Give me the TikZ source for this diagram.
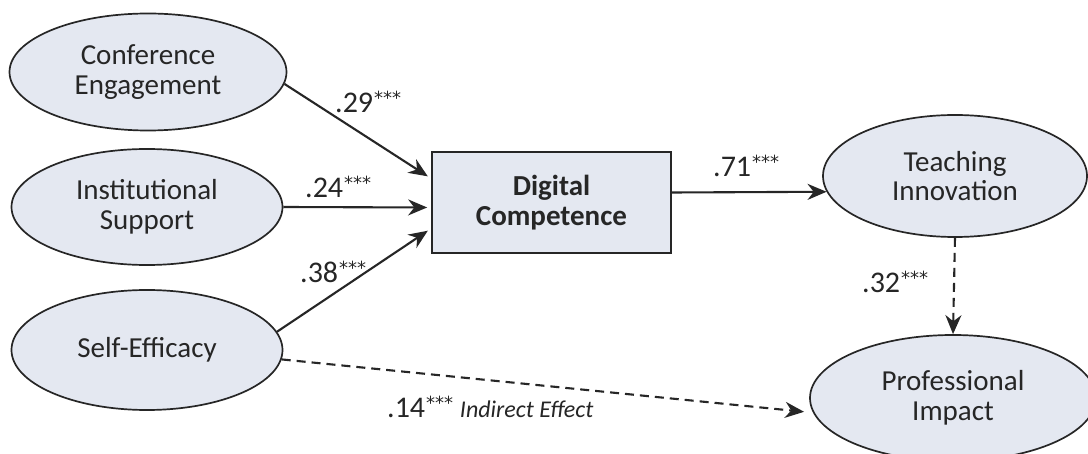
\documentclass[tikz,border=0pt]{standalone}
\usepackage{fontspec}
\setmainfont{Carlito}
\newfontfamily\astfont{DejaVu Sans}
\usetikzlibrary{shapes.geometric,arrows.meta}
\definecolor{nodefill}{HTML}{E4E8F1}
\definecolor{ink}{HTML}{262626}
\newcommand{\sig}{\kern1pt\raisebox{8pt}{\astfont\fontsize{18}{18}\selectfont ***}}
\tikzset{
  latent/.style={ellipse, draw=ink, line width=1.7pt, fill=nodefill, inner sep=0pt,
    align=center, font=\fontsize{29}{29.5}\selectfont, text=ink},
  obsbox/.style={rectangle, draw=ink, line width=1.7pt, fill=nodefill, inner sep=0pt,
    align=center, font=\fontsize{29}{30}\selectfont\bfseries, text=ink},
  path/.style={draw=ink, line width=2.1pt, -{Stealth[length=19pt,width=16pt]}},
  dpath/.style={path, dash pattern=on 9pt off 6pt},
  coef/.style={font=\fontsize{30}{30}\selectfont, text=ink, inner sep=0pt, anchor=base west}
}
\begin{document}
\begin{tikzpicture}[x=1pt,y=-1pt]
\fill[white] (0,0) rectangle (1088,454);
\useasboundingbox (0,0) rectangle (1088,454);
\node[latent, minimum width=277pt, minimum height=117pt] (ce) at (148,72) {Conference\\Engagement};
\node[latent, minimum width=271pt, minimum height=116pt] (is) at (147,207) {Institutional\\Support};
\node[latent, minimum width=271pt, minimum height=120pt] (se) at (147,350) {Self-Efficacy};
\node[obsbox, minimum width=239pt, minimum height=101pt] (dc) at (551.5,202.5) {Digital\\Competence};
\node[latent, minimum width=264pt, minimum height=122pt] (ti) at (955,176) {Teaching\\Innovation};
\node[latent, minimum width=286pt, minimum height=126pt] (pi) at (953,398) {Professional\\Impact};

\draw[path, shorten >=4pt] (ce.-5) -- ([yshift=24pt]dc.west);
\draw[path, shorten >=4pt] (is.east |- 0,207) -- ([yshift=-5pt]dc.west);
\draw[path, shorten >=4pt] (se.8) -- ([yshift=-26pt]dc.west);
\draw[path] ([yshift=10pt]dc.east) -- (ti.187);
\draw[dpath] (ti.south) -- (pi.north);
\draw[dpath, shorten >=9pt] (se.-4) -- (pi.186);

\node[coef] (l1) at (335,113) {.29\sig};
\node[coef] (l2) at (305,198) {.24\sig};
\node[coef] (l3) at (300,283) {.38\sig};
\node[coef] (l4) at (713,177) {.71\sig};
\node[coef] (l5) at (862,293) {.32\sig};
\node[coef] (l6) at (387,418) {.14\sig\ {\fontsize{24}{24}\selectfont\itshape Indirect Effect}};
\end{tikzpicture}
\end{document}
